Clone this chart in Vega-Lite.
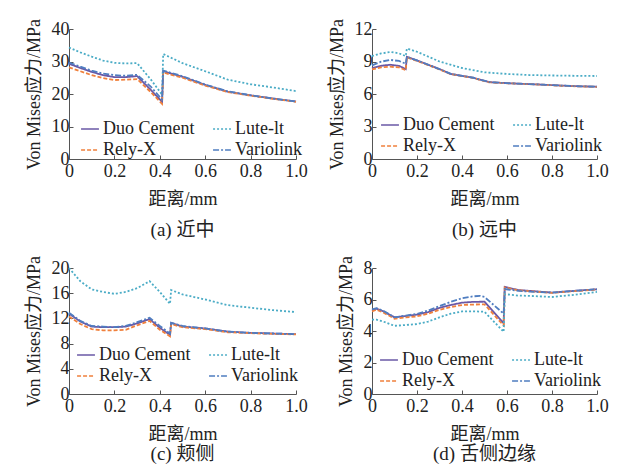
{
  "$schema": "https://vega.github.io/schema/vega-lite/v6.json",
  "background": "white",
  "padding": {"left": 24, "top": 18, "right": 4, "bottom": 4},
  "datasets": {
    "a": [
      {"x": 0, "s": "Duo Cement", "y": 29.3}, {"x": 0.05, "s": "Duo Cement", "y": 28.0}, {"x": 0.1, "s": "Duo Cement", "y": 26.8}, {"x": 0.15, "s": "Duo Cement", "y": 25.8}, {"x": 0.2, "s": "Duo Cement", "y": 25.2}, {"x": 0.25, "s": "Duo Cement", "y": 25.2}, {"x": 0.3, "s": "Duo Cement", "y": 25.5}, {"x": 0.36, "s": "Duo Cement", "y": 21.3}, {"x": 0.41, "s": "Duo Cement", "y": 17.6}, {"x": 0.415, "s": "Duo Cement", "y": 27.0}, {"x": 0.5, "s": "Duo Cement", "y": 25.3}, {"x": 0.6, "s": "Duo Cement", "y": 22.8}, {"x": 0.7, "s": "Duo Cement", "y": 20.7}, {"x": 0.8, "s": "Duo Cement", "y": 19.6}, {"x": 0.9, "s": "Duo Cement", "y": 18.6}, {"x": 1.0, "s": "Duo Cement", "y": 17.7},
      {"x": 0, "s": "Rely-X", "y": 28.2}, {"x": 0.05, "s": "Rely-X", "y": 27.0}, {"x": 0.1, "s": "Rely-X", "y": 25.8}, {"x": 0.15, "s": "Rely-X", "y": 24.9}, {"x": 0.2, "s": "Rely-X", "y": 24.3}, {"x": 0.25, "s": "Rely-X", "y": 24.4}, {"x": 0.3, "s": "Rely-X", "y": 24.6}, {"x": 0.36, "s": "Rely-X", "y": 20.6}, {"x": 0.41, "s": "Rely-X", "y": 17.0}, {"x": 0.415, "s": "Rely-X", "y": 26.6}, {"x": 0.5, "s": "Rely-X", "y": 25.0}, {"x": 0.6, "s": "Rely-X", "y": 22.6}, {"x": 0.7, "s": "Rely-X", "y": 20.6}, {"x": 0.8, "s": "Rely-X", "y": 19.5}, {"x": 0.9, "s": "Rely-X", "y": 18.5}, {"x": 1.0, "s": "Rely-X", "y": 17.6},
      {"x": 0, "s": "Lute-lt", "y": 34.3}, {"x": 0.05, "s": "Lute-lt", "y": 32.8}, {"x": 0.1, "s": "Lute-lt", "y": 31.5}, {"x": 0.15, "s": "Lute-lt", "y": 30.3}, {"x": 0.2, "s": "Lute-lt", "y": 29.6}, {"x": 0.25, "s": "Lute-lt", "y": 29.4}, {"x": 0.3, "s": "Lute-lt", "y": 29.5}, {"x": 0.36, "s": "Lute-lt", "y": 24.5}, {"x": 0.41, "s": "Lute-lt", "y": 19.8}, {"x": 0.415, "s": "Lute-lt", "y": 32.3}, {"x": 0.5, "s": "Lute-lt", "y": 29.5}, {"x": 0.6, "s": "Lute-lt", "y": 27.0}, {"x": 0.7, "s": "Lute-lt", "y": 24.4}, {"x": 0.8, "s": "Lute-lt", "y": 23.0}, {"x": 0.9, "s": "Lute-lt", "y": 22.0}, {"x": 1.0, "s": "Lute-lt", "y": 20.9},
      {"x": 0, "s": "Variolink", "y": 29.7}, {"x": 0.05, "s": "Variolink", "y": 28.4}, {"x": 0.1, "s": "Variolink", "y": 27.2}, {"x": 0.15, "s": "Variolink", "y": 26.3}, {"x": 0.2, "s": "Variolink", "y": 25.8}, {"x": 0.25, "s": "Variolink", "y": 25.6}, {"x": 0.3, "s": "Variolink", "y": 25.9}, {"x": 0.36, "s": "Variolink", "y": 22.3}, {"x": 0.41, "s": "Variolink", "y": 18.3}, {"x": 0.415, "s": "Variolink", "y": 27.2}, {"x": 0.5, "s": "Variolink", "y": 25.5}, {"x": 0.6, "s": "Variolink", "y": 22.9}, {"x": 0.7, "s": "Variolink", "y": 20.8}, {"x": 0.8, "s": "Variolink", "y": 19.6}, {"x": 0.9, "s": "Variolink", "y": 18.6}, {"x": 1.0, "s": "Variolink", "y": 17.7}
    ],
    "b": [
      {"x": 0, "s": "Duo Cement", "y": 8.4}, {"x": 0.04, "s": "Duo Cement", "y": 8.6}, {"x": 0.08, "s": "Duo Cement", "y": 8.7}, {"x": 0.12, "s": "Duo Cement", "y": 8.6}, {"x": 0.15, "s": "Duo Cement", "y": 8.3}, {"x": 0.155, "s": "Duo Cement", "y": 9.43}, {"x": 0.2, "s": "Duo Cement", "y": 9.1}, {"x": 0.3, "s": "Duo Cement", "y": 8.3}, {"x": 0.35, "s": "Duo Cement", "y": 7.85}, {"x": 0.45, "s": "Duo Cement", "y": 7.5}, {"x": 0.52, "s": "Duo Cement", "y": 7.1}, {"x": 0.6, "s": "Duo Cement", "y": 7.0}, {"x": 0.74, "s": "Duo Cement", "y": 6.88}, {"x": 0.89, "s": "Duo Cement", "y": 6.73}, {"x": 1.0, "s": "Duo Cement", "y": 6.67},
      {"x": 0, "s": "Rely-X", "y": 8.28}, {"x": 0.04, "s": "Rely-X", "y": 8.45}, {"x": 0.08, "s": "Rely-X", "y": 8.52}, {"x": 0.12, "s": "Rely-X", "y": 8.45}, {"x": 0.15, "s": "Rely-X", "y": 8.2}, {"x": 0.155, "s": "Rely-X", "y": 9.38}, {"x": 0.2, "s": "Rely-X", "y": 9.06}, {"x": 0.3, "s": "Rely-X", "y": 8.27}, {"x": 0.35, "s": "Rely-X", "y": 7.83}, {"x": 0.45, "s": "Rely-X", "y": 7.48}, {"x": 0.52, "s": "Rely-X", "y": 7.08}, {"x": 0.6, "s": "Rely-X", "y": 6.99}, {"x": 0.74, "s": "Rely-X", "y": 6.87}, {"x": 0.89, "s": "Rely-X", "y": 6.72}, {"x": 1.0, "s": "Rely-X", "y": 6.66},
      {"x": 0, "s": "Lute-lt", "y": 9.5}, {"x": 0.04, "s": "Lute-lt", "y": 9.75}, {"x": 0.085, "s": "Lute-lt", "y": 9.88}, {"x": 0.12, "s": "Lute-lt", "y": 9.75}, {"x": 0.15, "s": "Lute-lt", "y": 9.5}, {"x": 0.155, "s": "Lute-lt", "y": 10.2}, {"x": 0.2, "s": "Lute-lt", "y": 9.9}, {"x": 0.3, "s": "Lute-lt", "y": 9.0}, {"x": 0.4, "s": "Lute-lt", "y": 8.4}, {"x": 0.5, "s": "Lute-lt", "y": 8.0}, {"x": 0.6, "s": "Lute-lt", "y": 7.85}, {"x": 0.7, "s": "Lute-lt", "y": 7.75}, {"x": 0.8, "s": "Lute-lt", "y": 7.71}, {"x": 0.9, "s": "Lute-lt", "y": 7.68}, {"x": 1.0, "s": "Lute-lt", "y": 7.66},
      {"x": 0, "s": "Variolink", "y": 8.65}, {"x": 0.04, "s": "Variolink", "y": 8.98}, {"x": 0.08, "s": "Variolink", "y": 9.15}, {"x": 0.12, "s": "Variolink", "y": 9.05}, {"x": 0.15, "s": "Variolink", "y": 8.8}, {"x": 0.155, "s": "Variolink", "y": 9.43}, {"x": 0.2, "s": "Variolink", "y": 9.1}, {"x": 0.3, "s": "Variolink", "y": 8.3}, {"x": 0.35, "s": "Variolink", "y": 7.86}, {"x": 0.45, "s": "Variolink", "y": 7.5}, {"x": 0.52, "s": "Variolink", "y": 7.1}, {"x": 0.6, "s": "Variolink", "y": 7.0}, {"x": 0.74, "s": "Variolink", "y": 6.88}, {"x": 0.89, "s": "Variolink", "y": 6.73}, {"x": 1.0, "s": "Variolink", "y": 6.67}
    ],
    "c": [
      {"x": 0, "s": "Duo Cement", "y": 12.75}, {"x": 0.05, "s": "Duo Cement", "y": 11.5}, {"x": 0.1, "s": "Duo Cement", "y": 10.7}, {"x": 0.15, "s": "Duo Cement", "y": 10.6}, {"x": 0.2, "s": "Duo Cement", "y": 10.6}, {"x": 0.25, "s": "Duo Cement", "y": 10.7}, {"x": 0.3, "s": "Duo Cement", "y": 11.2}, {"x": 0.355, "s": "Duo Cement", "y": 11.9}, {"x": 0.4, "s": "Duo Cement", "y": 10.5}, {"x": 0.445, "s": "Duo Cement", "y": 9.4}, {"x": 0.45, "s": "Duo Cement", "y": 11.3}, {"x": 0.5, "s": "Duo Cement", "y": 10.7}, {"x": 0.6, "s": "Duo Cement", "y": 10.4}, {"x": 0.7, "s": "Duo Cement", "y": 9.9}, {"x": 0.8, "s": "Duo Cement", "y": 9.7}, {"x": 0.9, "s": "Duo Cement", "y": 9.6}, {"x": 1.0, "s": "Duo Cement", "y": 9.5},
      {"x": 0, "s": "Rely-X", "y": 12.3}, {"x": 0.05, "s": "Rely-X", "y": 11.1}, {"x": 0.1, "s": "Rely-X", "y": 10.3}, {"x": 0.15, "s": "Rely-X", "y": 10.1}, {"x": 0.2, "s": "Rely-X", "y": 10.1}, {"x": 0.25, "s": "Rely-X", "y": 10.2}, {"x": 0.3, "s": "Rely-X", "y": 10.9}, {"x": 0.355, "s": "Rely-X", "y": 11.6}, {"x": 0.4, "s": "Rely-X", "y": 10.2}, {"x": 0.445, "s": "Rely-X", "y": 9.15}, {"x": 0.45, "s": "Rely-X", "y": 11.1}, {"x": 0.5, "s": "Rely-X", "y": 10.6}, {"x": 0.6, "s": "Rely-X", "y": 10.3}, {"x": 0.7, "s": "Rely-X", "y": 9.8}, {"x": 0.8, "s": "Rely-X", "y": 9.65}, {"x": 0.9, "s": "Rely-X", "y": 9.55}, {"x": 1.0, "s": "Rely-X", "y": 9.45},
      {"x": 0, "s": "Lute-lt", "y": 20.0}, {"x": 0.05, "s": "Lute-lt", "y": 17.9}, {"x": 0.1, "s": "Lute-lt", "y": 16.6}, {"x": 0.15, "s": "Lute-lt", "y": 16.2}, {"x": 0.2, "s": "Lute-lt", "y": 15.9}, {"x": 0.25, "s": "Lute-lt", "y": 16.2}, {"x": 0.3, "s": "Lute-lt", "y": 16.8}, {"x": 0.355, "s": "Lute-lt", "y": 17.9}, {"x": 0.4, "s": "Lute-lt", "y": 16.2}, {"x": 0.445, "s": "Lute-lt", "y": 14.3}, {"x": 0.45, "s": "Lute-lt", "y": 16.5}, {"x": 0.5, "s": "Lute-lt", "y": 15.8}, {"x": 0.6, "s": "Lute-lt", "y": 15.0}, {"x": 0.7, "s": "Lute-lt", "y": 14.1}, {"x": 0.8, "s": "Lute-lt", "y": 13.7}, {"x": 0.9, "s": "Lute-lt", "y": 13.3}, {"x": 1.0, "s": "Lute-lt", "y": 13.0},
      {"x": 0, "s": "Variolink", "y": 12.9}, {"x": 0.05, "s": "Variolink", "y": 11.6}, {"x": 0.1, "s": "Variolink", "y": 10.8}, {"x": 0.15, "s": "Variolink", "y": 10.7}, {"x": 0.2, "s": "Variolink", "y": 10.6}, {"x": 0.25, "s": "Variolink", "y": 10.8}, {"x": 0.3, "s": "Variolink", "y": 11.4}, {"x": 0.355, "s": "Variolink", "y": 12.1}, {"x": 0.4, "s": "Variolink", "y": 10.8}, {"x": 0.445, "s": "Variolink", "y": 9.6}, {"x": 0.45, "s": "Variolink", "y": 11.3}, {"x": 0.5, "s": "Variolink", "y": 10.8}, {"x": 0.6, "s": "Variolink", "y": 10.4}, {"x": 0.7, "s": "Variolink", "y": 9.9}, {"x": 0.8, "s": "Variolink", "y": 9.7}, {"x": 0.9, "s": "Variolink", "y": 9.6}, {"x": 1.0, "s": "Variolink", "y": 9.5}
    ],
    "d": [
      {"x": 0, "s": "Duo Cement", "y": 5.3}, {"x": 0.02, "s": "Duo Cement", "y": 5.42}, {"x": 0.05, "s": "Duo Cement", "y": 5.25}, {"x": 0.1, "s": "Duo Cement", "y": 4.87}, {"x": 0.15, "s": "Duo Cement", "y": 4.95}, {"x": 0.2, "s": "Duo Cement", "y": 5.04}, {"x": 0.25, "s": "Duo Cement", "y": 5.2}, {"x": 0.3, "s": "Duo Cement", "y": 5.47}, {"x": 0.35, "s": "Duo Cement", "y": 5.65}, {"x": 0.4, "s": "Duo Cement", "y": 5.8}, {"x": 0.45, "s": "Duo Cement", "y": 5.85}, {"x": 0.5, "s": "Duo Cement", "y": 5.86}, {"x": 0.585, "s": "Duo Cement", "y": 4.5}, {"x": 0.59, "s": "Duo Cement", "y": 6.8}, {"x": 0.65, "s": "Duo Cement", "y": 6.6}, {"x": 0.7, "s": "Duo Cement", "y": 6.55}, {"x": 0.8, "s": "Duo Cement", "y": 6.44}, {"x": 0.9, "s": "Duo Cement", "y": 6.55}, {"x": 1.0, "s": "Duo Cement", "y": 6.65},
      {"x": 0, "s": "Rely-X", "y": 5.25}, {"x": 0.02, "s": "Rely-X", "y": 5.35}, {"x": 0.05, "s": "Rely-X", "y": 5.18}, {"x": 0.1, "s": "Rely-X", "y": 4.78}, {"x": 0.15, "s": "Rely-X", "y": 4.86}, {"x": 0.2, "s": "Rely-X", "y": 4.93}, {"x": 0.25, "s": "Rely-X", "y": 5.1}, {"x": 0.3, "s": "Rely-X", "y": 5.35}, {"x": 0.35, "s": "Rely-X", "y": 5.52}, {"x": 0.4, "s": "Rely-X", "y": 5.65}, {"x": 0.45, "s": "Rely-X", "y": 5.68}, {"x": 0.5, "s": "Rely-X", "y": 5.69}, {"x": 0.585, "s": "Rely-X", "y": 4.35}, {"x": 0.59, "s": "Rely-X", "y": 6.77}, {"x": 0.65, "s": "Rely-X", "y": 6.58}, {"x": 0.7, "s": "Rely-X", "y": 6.53}, {"x": 0.8, "s": "Rely-X", "y": 6.42}, {"x": 0.9, "s": "Rely-X", "y": 6.53}, {"x": 1.0, "s": "Rely-X", "y": 6.63},
      {"x": 0, "s": "Lute-lt", "y": 4.72}, {"x": 0.02, "s": "Lute-lt", "y": 4.72}, {"x": 0.05, "s": "Lute-lt", "y": 4.6}, {"x": 0.1, "s": "Lute-lt", "y": 4.33}, {"x": 0.15, "s": "Lute-lt", "y": 4.38}, {"x": 0.2, "s": "Lute-lt", "y": 4.44}, {"x": 0.25, "s": "Lute-lt", "y": 4.6}, {"x": 0.3, "s": "Lute-lt", "y": 4.87}, {"x": 0.35, "s": "Lute-lt", "y": 5.1}, {"x": 0.4, "s": "Lute-lt", "y": 5.24}, {"x": 0.45, "s": "Lute-lt", "y": 5.25}, {"x": 0.5, "s": "Lute-lt", "y": 5.22}, {"x": 0.585, "s": "Lute-lt", "y": 3.95}, {"x": 0.59, "s": "Lute-lt", "y": 6.34}, {"x": 0.65, "s": "Lute-lt", "y": 6.25}, {"x": 0.7, "s": "Lute-lt", "y": 6.23}, {"x": 0.8, "s": "Lute-lt", "y": 6.16}, {"x": 0.9, "s": "Lute-lt", "y": 6.3}, {"x": 1.0, "s": "Lute-lt", "y": 6.48},
      {"x": 0, "s": "Variolink", "y": 5.37}, {"x": 0.02, "s": "Variolink", "y": 5.45}, {"x": 0.05, "s": "Variolink", "y": 5.28}, {"x": 0.1, "s": "Variolink", "y": 4.87}, {"x": 0.15, "s": "Variolink", "y": 4.98}, {"x": 0.2, "s": "Variolink", "y": 5.09}, {"x": 0.25, "s": "Variolink", "y": 5.3}, {"x": 0.3, "s": "Variolink", "y": 5.58}, {"x": 0.35, "s": "Variolink", "y": 5.85}, {"x": 0.4, "s": "Variolink", "y": 6.08}, {"x": 0.45, "s": "Variolink", "y": 6.2}, {"x": 0.48, "s": "Variolink", "y": 6.23}, {"x": 0.5, "s": "Variolink", "y": 6.16}, {"x": 0.585, "s": "Variolink", "y": 5.1}, {"x": 0.59, "s": "Variolink", "y": 6.66}, {"x": 0.65, "s": "Variolink", "y": 6.55}, {"x": 0.7, "s": "Variolink", "y": 6.5}, {"x": 0.8, "s": "Variolink", "y": 6.44}, {"x": 0.9, "s": "Variolink", "y": 6.55}, {"x": 1.0, "s": "Variolink", "y": 6.65}
    ]
  },
  "columns": 2,
  "spacing": {"row": 15, "column": 19},
  "resolve": {"legend": {"color": "independent", "strokeDash": "independent"}},
  "concat": [
    {
      "width": 227, "height": 130,
      "data": {"name": "a"},
      "title": {"text": "(a) 近中", "offset": 13},
      "mark": {"type": "line", "strokeWidth": 1.8},
      "encoding": {
        "x": {"field": "x", "type": "quantitative", "scale": {"domain": [0, 1], "nice": false}, "axis": {"values": [0, 0.2, 0.4, 0.6, 0.8, 1], "labelExpr": "datum.value == 0 ? '0' : format(datum.value, '.1f')", "title": "距离/mm"}},
        "y": {"field": "y", "type": "quantitative", "scale": {"domain": [0, 40], "nice": false}, "axis": {"values": [0, 10, 20, 30, 40], "title": "Von Mises应力/MPa"}},
        "color": {"field": "s", "type": "nominal", "scale": {"domain": ["Duo Cement", "Rely-X", "Lute-lt", "Variolink"], "range": ["#6a58a6", "#f0803c", "#4bacc6", "#4f7dc0"]}, "legend": {"orient": "none", "legendX": 11, "legendY": 90}},
        "strokeDash": {"field": "s", "type": "nominal", "scale": {"domain": ["Duo Cement", "Rely-X", "Lute-lt", "Variolink"], "range": [[1, 0], [4, 2], [2, 2], [6, 2, 2, 2]]}, "legend": {"orient": "none", "legendX": 11, "legendY": 90}}
      }
    },
    {
      "width": 225, "height": 130,
      "data": {"name": "b"},
      "title": {"text": "(b) 远中", "offset": 13},
      "mark": {"type": "line", "strokeWidth": 1.8},
      "encoding": {
        "x": {"field": "x", "type": "quantitative", "scale": {"domain": [0, 1], "nice": false}, "axis": {"values": [0, 0.2, 0.4, 0.6, 0.8, 1], "labelExpr": "datum.value == 0 ? '0' : format(datum.value, '.1f')", "title": "距离/mm"}},
        "y": {"field": "y", "type": "quantitative", "scale": {"domain": [0, 12], "nice": false}, "axis": {"values": [0, 3, 6, 9, 12], "title": "Von Mises应力/MPa"}},
        "color": {"field": "s", "type": "nominal", "scale": {"domain": ["Duo Cement", "Rely-X", "Lute-lt", "Variolink"], "range": ["#6a58a6", "#f0803c", "#4bacc6", "#4f7dc0"]}, "legend": {"orient": "none", "legendX": 8, "legendY": 86}},
        "strokeDash": {"field": "s", "type": "nominal", "scale": {"domain": ["Duo Cement", "Rely-X", "Lute-lt", "Variolink"], "range": [[1, 0], [4, 2], [2, 2], [6, 2, 2, 2]]}, "legend": {"orient": "none", "legendX": 8, "legendY": 86}}
      }
    },
    {
      "width": 227, "height": 126,
      "data": {"name": "c"},
      "title": {"text": "(c) 颊侧", "offset": 2},
      "mark": {"type": "line", "strokeWidth": 1.8},
      "encoding": {
        "x": {"field": "x", "type": "quantitative", "scale": {"domain": [0, 1], "nice": false}, "axis": {"values": [0, 0.2, 0.4, 0.6, 0.8, 1], "labelExpr": "datum.value == 0 ? '0' : format(datum.value, '.1f')", "title": "距离/mm"}},
        "y": {"field": "y", "type": "quantitative", "scale": {"domain": [0, 20], "nice": false}, "axis": {"values": [0, 4, 8, 12, 16, 20], "title": "Von Mises应力/MPa"}},
        "color": {"field": "s", "type": "nominal", "scale": {"domain": ["Duo Cement", "Rely-X", "Lute-lt", "Variolink"], "range": ["#6a58a6", "#f0803c", "#4bacc6", "#4f7dc0"]}, "legend": {"orient": "none", "legendX": 7, "legendY": 77}},
        "strokeDash": {"field": "s", "type": "nominal", "scale": {"domain": ["Duo Cement", "Rely-X", "Lute-lt", "Variolink"], "range": [[1, 0], [4, 2], [2, 2], [6, 2, 2, 2]]}, "legend": {"orient": "none", "legendX": 7, "legendY": 77}}
      }
    },
    {
      "width": 225, "height": 126,
      "data": {"name": "d"},
      "title": {"text": "(d) 舌侧边缘", "offset": 2},
      "mark": {"type": "line", "strokeWidth": 1.8},
      "encoding": {
        "x": {"field": "x", "type": "quantitative", "scale": {"domain": [0, 1], "nice": false}, "axis": {"values": [0, 0.2, 0.4, 0.6, 0.8, 1], "labelExpr": "datum.value == 0 ? '0' : format(datum.value, '.1f')", "title": "距离/mm"}},
        "y": {"field": "y", "type": "quantitative", "scale": {"domain": [0, 8], "nice": false}, "axis": {"values": [0, 2, 4, 6, 8], "title": "Von Mises应力/MPa"}},
        "color": {"field": "s", "type": "nominal", "scale": {"domain": ["Duo Cement", "Rely-X", "Lute-lt", "Variolink"], "range": ["#6a58a6", "#f0803c", "#4bacc6", "#4f7dc0"]}, "legend": {"orient": "none", "legendX": 7, "legendY": 82}},
        "strokeDash": {"field": "s", "type": "nominal", "scale": {"domain": ["Duo Cement", "Rely-X", "Lute-lt", "Variolink"], "range": [[1, 0], [4, 2], [2, 2], [6, 2, 2, 2]]}, "legend": {"orient": "none", "legendX": 7, "legendY": 82}}
      }
    }
  ],
  "config": {
    "font": "'Liberation Serif', 'Noto Sans CJK SC', serif",
    "view": {"stroke": null},
    "axis": {"grid": false, "labelFont": "'Liberation Serif', 'Noto Sans CJK SC', serif", "labelFontSize": 18, "labelColor": "#222", "titleFont": "'Liberation Serif', 'Noto Sans CJK SC', serif", "titleFontSize": 18, "titleFontWeight": "normal", "titleColor": "#222", "domainColor": "#555", "tickColor": "#555", "tickSize": -4},
    "axisY": {"titlePadding": 8, "labelPadding": 4},
    "axisX": {"titlePadding": 10, "labelPadding": 7, "labelFlush": false},
    "title": {"orient": "bottom", "font": "'Liberation Serif', 'Noto Sans CJK SC', serif", "fontSize": 19, "fontWeight": "normal", "color": "#222", "offset": 9, "anchor": "middle"},
    "legend": {"title": null, "columns": 2, "symbolType": "stroke", "symbolSize": 320, "symbolStrokeWidth": 1.6, "labelFont": "'Liberation Serif', 'Noto Sans CJK SC', serif", "labelFontSize": 18, "labelColor": "#222", "labelOffset": 3, "columnPadding": 14, "rowPadding": 2, "labelLimit": 200}
  }
}
